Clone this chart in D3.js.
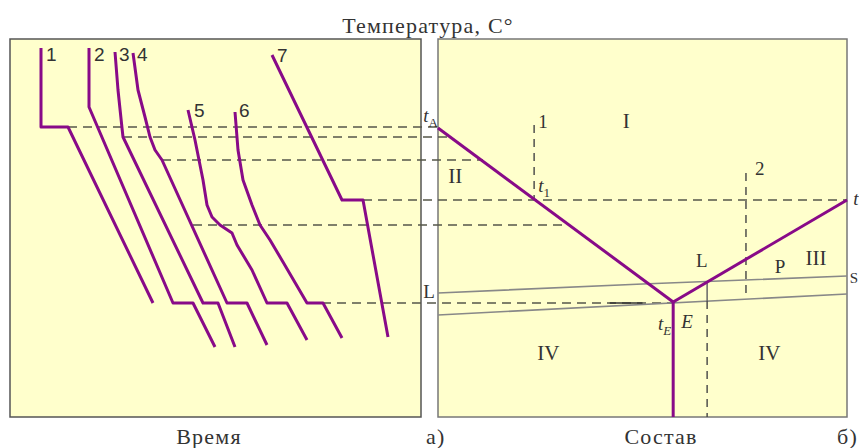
<!DOCTYPE html>
<html>
<head>
<meta charset="utf-8">
<script src="https://cdn.jsdelivr.net/npm/d3@7"></script>
<style>
body{margin:0;background:#fff;}
svg{display:block;}
</style>
</head>
<body>
<svg id="chart" width="859" height="448"></svg>
<script>
// cooling curves: [time, temperature]
const curve1=[[31,369],[31,290],[58,290],[143,114]];
const curve2=[[79,369],[79,310],[163,114],[183,114],[205,70]];
const curve3=[[105,365],[108,327],[112,289],[113,280],[193,114],[208,114],[225,70]];
const curve4=[[123,364],[128,327],[135,300],[140,280],[145,267],[152,257],[217,114],[237,114],[257,72]];
const curve5=[[178,307],[185,277],[193,237],[197,212],[202,200],[210,192],[222,184],[227,172],[242,147],[257,114],[277,114],[297,77]];
const curve6=[[225,305],[228,267],[233,237],[242,212],[250,192],[260,177],[273,155],[297,114],[313,114],[332,79]];
const curve7=[[262,362],[332,217],[353,217],[378,80]];
const curves=[curve1,curve2,curve3,curve4,curve5,curve6,curve7];
const curveNames=['1','2','3','4','5','6','7'];
const curveLabelAt=[[36,356],[84,356],[109,356],[127,356],[184,300],[229,300],[267,355]];

// dashed temperature levels carried from time plot to the diagram: T, start time, end composition
const levelT=[290,280,257,217,192,114];
const levelFrom=[58,113,152,353,183,297];
const levelTo=[0,2.9,11,100,31.5,57.5];

// phase diagram: [composition %, temperature]
const liquidusLeft=[[0,289],[57.5,115]];
const liquidusRight=[[57.5,115],[100,217]];
const eutecticStem=[[57.5,115],[57.5,0]];
const greyUpper=[[0,124],[50,133],[100,141]];
const greyLower=[[0,102],[100,123]];
const vert1=[[23.5,292],[23.5,217]];
const vert2=[[75.3,244],[75.3,118]];
const vertLsolid=[[65.8,135],[65.8,116]];
const vertLdash=[[65.8,116],[65.8,0]];
const eutSolid=[[42,114],[50,114]];

const regionNames=['I','II','III','IV','IV'];
const regionAt=[[46,289],[4.2,234],[92.4,152],[27,57],[81,57]];

const svg=d3.select('#chart');
const x1=d3.scaleLinear().domain([0,411]).range([10,421]);
const x2=d3.scaleLinear().domain([0,100]).range([438,847]);
const y=d3.scaleLinear().domain([0,378]).range([417,39]);

// panels
svg.append('rect').attr('x',x1(0)).attr('y',y(378)).attr('width',x1(411)-x1(0)).attr('height',y(0)-y(378))
    .style('fill','#ffffcc').style('stroke','#555').style('stroke-width',1.5);
svg.append('rect').attr('x',x2(0)).attr('y',y(378)).attr('width',x2(100)-x2(0)).attr('height',y(0)-y(378))
    .style('fill','#ffffcc').style('stroke','#777').style('stroke-width',1.5);

const line1=d3.line().x(d=>x1(d[0])).y(d=>y(d[1]));
const line2=d3.line().x(d=>x2(d[0])).y(d=>y(d[1]));
const DASH='9,6';

// dashed levels
svg.append('g').selectAll('line')
    .data(levelT).enter()
    .append('line')
    .attr('x1',(d,i)=>x1(levelFrom[i]))
    .attr('x2',(d,i)=>x2(levelTo[i]))
    .attr('y1',d=>y(d)).attr('y2',d=>y(d))
    .style('stroke','#55574a').style('stroke-width',1.6).style('stroke-dasharray',DASH);

// grey lines
[greyUpper,greyLower].forEach(p=>{
    svg.append('path').attr('d',line2(p)).style('fill','none').style('stroke','#888').style('stroke-width',1.6);
});
svg.append('path').attr('d',line2(vertLsolid)).style('fill','none').style('stroke','#666').style('stroke-width',1.5);
svg.append('path').attr('d',line2(eutSolid)).style('fill','none').style('stroke','#333').style('stroke-width',1.6);
[vert1,vert2,vertLdash].forEach(p=>{
    svg.append('path').attr('d',line2(p)).style('fill','none').style('stroke','#444')
        .style('stroke-width',1.4).style('stroke-dasharray','8,6');
});

// purple lines
const PURPLE='#880a88';
svg.append('g').selectAll('path')
    .data(curves).enter()
    .append('path')
    .attr('d',line1)
    .style('fill','none').style('stroke',PURPLE).style('stroke-width',3).style('stroke-linejoin','round');
[liquidusLeft,liquidusRight,eutecticStem].forEach(p=>{
    svg.append('path').attr('d',line2(p)).style('fill','none').style('stroke',PURPLE).style('stroke-width',3);
});

// curve numbers
svg.append('g').selectAll('text')
    .data(curveNames).enter()
    .append('text')
    .attr('x',(d,i)=>x1(curveLabelAt[i][0]))
    .attr('y',(d,i)=>y(curveLabelAt[i][1]))
    .text(d=>d)
    .style('font-family','Liberation Sans, Arial, sans-serif').style('font-size','19px').style('fill','#333');

const serif='Liberation Serif, Times New Roman, serif';
svg.append('g').selectAll('text')
    .data(regionNames).enter()
    .append('text')
    .attr('x',(d,i)=>x2(regionAt[i][0]))
    .attr('y',(d,i)=>y(regionAt[i][1]))
    .attr('text-anchor','middle')
    .text(d=>d)
    .style('font-family',serif).style('font-size','21px').style('fill','#333');

function label(txt,sub,x,yy,anchor,italic){
    let t=svg.append('text').attr('x',x).attr('y',yy).attr('text-anchor',anchor||'start')
        .style('font-family',serif).style('font-size','19px').style('fill','#333');
    let a=t.append('tspan').text(txt);
    if(italic) a.style('font-style','italic');
    if(sub) t.append('tspan').text(sub).attr('dy',5).style('font-size','13px').style('font-style',italic=='sub'?'italic':null);
    return t;
}
label('t','A',x2(0),y(295),'end',true);
label('t','1',x2(24.5),y(225),'start',true);
label('t','E',x2(57),y(87),'end','sub').select('tspan').style('font-style','italic');
label('E',null,x2(59.5),y(89),'start',true);
label('L',null,x2(64.5),y(150),'middle');
label('P',null,x2(83.6),y(144),'middle');
label('L',null,x2(-2.2),y(119),'middle');
label('1',null,x2(24.5),y(289),'start');
label('2',null,x2(77.5),y(242),'start');
label('t',null,x2(101.5),y(212),'start',true);
label('S',null,x2(100.7),y(134),'start').style('font-size','15px');

// titles
function title(txt,x,yy,anchor){
    svg.append('text').attr('x',x).attr('y',yy).attr('text-anchor',anchor).text(txt)
        .style('font-family',serif).style('font-size','22px').style('letter-spacing','1.2px').style('fill','#333');
}
title('Температура, С°',428,33,'middle');
title('Время',209,444,'middle');
title('Состав',661,444,'middle');
title('а)',426,444,'start');
title('б)',837,444,'start');
</script>
</body>
</html>
